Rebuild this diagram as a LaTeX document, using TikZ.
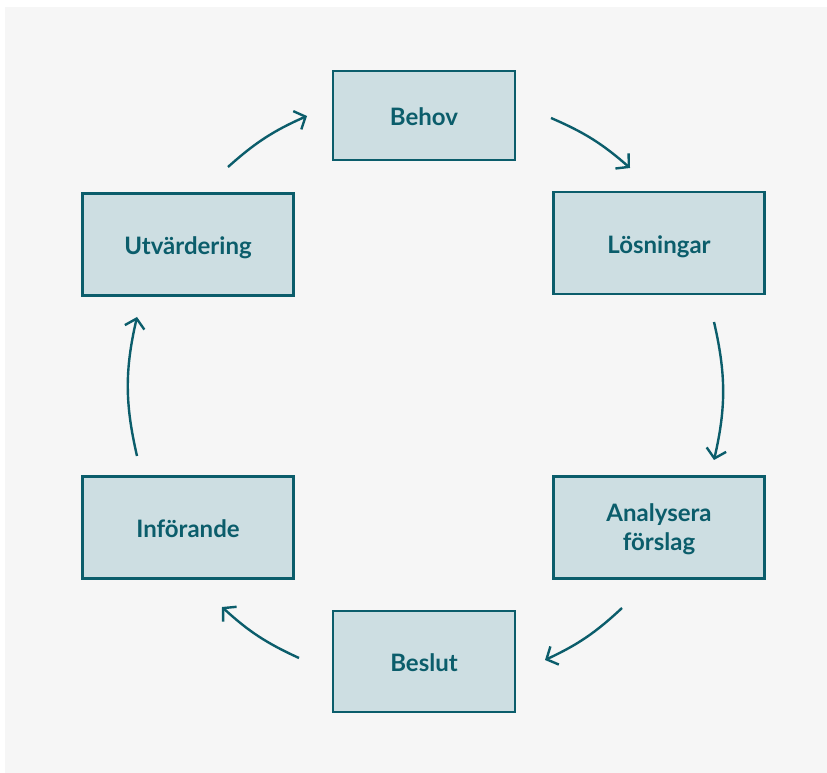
\documentclass[tikz,border=0pt]{standalone}
\usepackage{fontspec}
\setmainfont{Lato}
\usetikzlibrary{arrows.meta}
\definecolor{panelgray}{HTML}{F6F6F6}
\definecolor{boxfill}{HTML}{CDDEE2}
\definecolor{teal}{HTML}{0B5D6B}
\begin{document}
\begin{tikzpicture}[x=1pt,y=1pt,
  stage/.style={draw=teal, fill=boxfill, line width=2.3pt, text=teal,
    font=\fontsize{24}{29}\selectfont\bfseries, align=center,
    text height=21pt, text depth=0pt,
    minimum width=211pt, minimum height=102pt, inner sep=0pt},
  narrow/.style={minimum width=182pt},
  flow/.style={draw=teal, line width=2.4pt,
    -{Straight Barb[length=9pt,width=20pt,line width=2.4pt]}}]
  \useasboundingbox (0,0) rectangle (827,773);
  \fill[white] (0,0) rectangle (827,773);
  \fill[panelgray] (5,0) rectangle (827,766);

  % process stages
  \node[stage, narrow, minimum height=89pt] (behov) at (424,657.5) {Behov};
  \node[stage] (losn) at (659,530) {Lösningar};
  \node[stage, text height=47pt] (analys) at (659,245.5) {Analysera\\förslag};
  \node[stage, narrow, minimum height=101pt] (beslut) at (424,111.5) {Beslut};
  \node[stage] (inf) at (188,245.5) {Införande};
  \node[stage] (utv) at (188,528.5) {Utvärdering};

  % arrow ends on the cycle
  \coordinate (a1) at (551,655);  \coordinate (b1) at (630,605);
  \coordinate (a2) at (714,451);  \coordinate (b2) at (714,313);
  \coordinate (a3) at (622,165);  \coordinate (b3) at (545,113);
  \coordinate (a4) at (299,115);  \coordinate (b4) at (222,166);
  \coordinate (a5) at (137,317);  \coordinate (b5) at (137,456);
  \coordinate (a6) at (228,606);  \coordinate (b6) at (307,657);

  \draw[flow] (a1) to[bend left=9] (b1);
  \draw[flow] (a2) to[bend left=13] (b2);
  \draw[flow] (a3) to[bend left=9] (b3);
  \draw[flow] (a4) to[bend left=9] (b4);
  \draw[flow] (a5) to[bend left=13] (b5);
  \draw[flow] (a6) to[bend left=9] (b6);
\end{tikzpicture}
\end{document}
